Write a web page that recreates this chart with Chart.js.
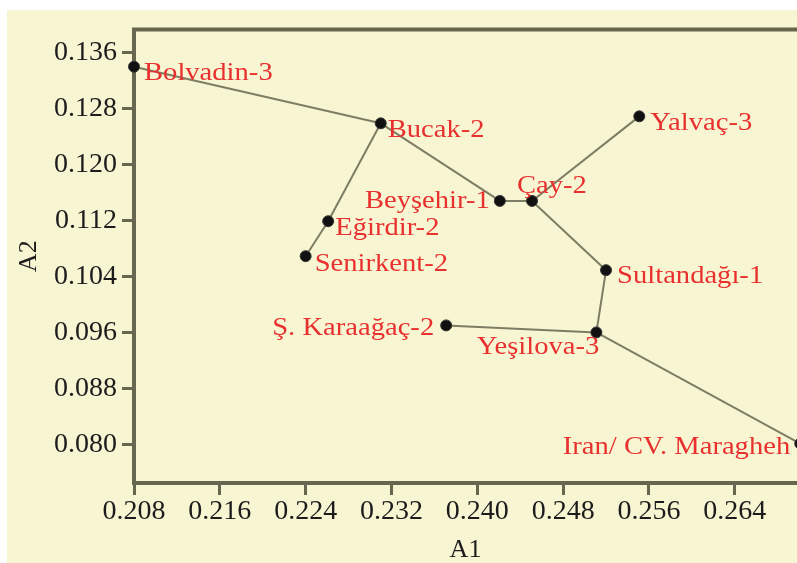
<!DOCTYPE html>
<html>
<head>
<meta charset="utf-8">
<script src="https://cdn.jsdelivr.net/npm/chart.js@4.4.1/dist/chart.umd.min.js"></script>
<style>
  html, body { margin: 0; padding: 0; background: #fff; overflow: hidden; }
  #wrap { position: absolute; left: 7px; top: 10px; width: 790px; height: 553px; background: #f8f5d3; }
</style>
</head>
<body>
<div id="wrap"><canvas id="chart"></canvas></div>
<script>
// accessions and their coordinates on A1 / A2
const sites = ['Bolvadin-3', 'Bucak-2', 'Eğirdir-2', 'Senirkent-2', 'Beyşehir-1', 'Çay-2',
  'Yalvaç-3', 'Sultandağı-1', 'Yeşilova-3', 'Ş. Karaağaç-2', 'Iran/ CV. Maragheh'];
const a1 = [0.2080, 0.2310, 0.2261, 0.2240, 0.2421, 0.2451, 0.2551, 0.2520, 0.2511, 0.2371, 0.2701];
const a2 = [0.1340, 0.1259, 0.1119, 0.1069, 0.1148, 0.1148, 0.1269, 0.1049, 0.0960, 0.0970, 0.0801];
// tree links, by index into sites
const links = [[0, 1], [1, 2], [2, 3], [1, 4], [4, 5], [5, 6], [5, 7], [7, 8], [8, 9], [8, 10]];

const xTicks = [0.208, 0.216, 0.224, 0.232, 0.240, 0.248, 0.256, 0.264];
const yTicks = [0.080, 0.088, 0.096, 0.104, 0.112, 0.120, 0.128, 0.136];

// where each label sits relative to its point: [dx, dy(baseline), align]
const labelPlacement = [
  [10, 13, 'left'], [7, 14, 'left'], [7, 14, 'left'], [9, 15, 'left'],
  [-10, 7, 'right'], [-15, -8, 'left'], [11, 14, 'left'], [11, 13, 'left'],
  [3, 22, 'right'], [-12, 10, 'right'], [-10, 10, 'right']
];

const axisColor = '#67674f';
const lineColor = '#7d7d63';
const labelColor = '#e8302e';
const serif = '"Liberation Serif", "Times New Roman", serif';

const siteLabels = {
  id: 'siteLabels',
  afterDatasetsDraw(chart) {
    const { ctx, scales: { x, y } } = chart;
    ctx.save();
    ctx.font = '26px ' + serif;
    ctx.fillStyle = labelColor;
    ctx.textBaseline = 'alphabetic';
    sites.forEach((name, i) => {
      const [dx, dy, align] = labelPlacement[i];
      ctx.save();
      ctx.translate(x.getPixelForValue(a1[i]) + dx, y.getPixelForValue(a2[i]) + dy);
      ctx.scale(1.1, 1);
      ctx.textAlign = align;
      ctx.fillText(name, 0, 0);
      ctx.restore();
    });
    ctx.restore();
  }
};

const topBorder = {
  id: 'topBorder',
  beforeDatasetsDraw(chart) {
    const { ctx, chartArea } = chart;
    ctx.save();
    ctx.strokeStyle = axisColor;
    ctx.lineWidth = 4;
    ctx.beginPath();
    ctx.moveTo(chartArea.left - 2, chartArea.top);
    ctx.lineTo(chart.width, chartArea.top);
    ctx.stroke();
    ctx.restore();
  }
};

const datasets = [{
  data: sites.map((s, i) => ({ x: a1[i], y: a2[i] })),
  pointRadius: 5.5,
  pointBackgroundColor: '#111',
  pointBorderColor: '#333',
  pointBorderWidth: 1,
  showLine: false,
  clip: false,
  order: 0
}];
links.forEach(([p, q]) => {
  datasets.push({
    data: [{ x: a1[p], y: a2[p] }, { x: a1[q], y: a2[q] }],
    showLine: true,
    borderColor: lineColor,
    borderWidth: 2,
    pointRadius: 0,
    clip: false,
    order: 1
  });
});

const tickFont = { family: serif, size: 28 };

new Chart(document.getElementById('chart'), {
  type: 'scatter',
  data: { datasets },
  options: {
    animation: false,
    responsive: true,
    maintainAspectRatio: false,
    layout: { autoPadding: false, padding: { top: 19.5, right: 0, bottom: 0, left: 0 } },
    plugins: { legend: { display: false }, tooltip: { enabled: false } },
    scales: {
      x: {
        type: 'linear',
        min: 0.208,
        max: 0.2698,
        afterBuildTicks: s => { s.ticks = xTicks.map(v => ({ value: v })); },
        afterFit: s => { s.height = 80; s.paddingLeft = 0; s.paddingRight = 0; },
        grid: { drawOnChartArea: false, drawTicks: true, tickLength: 12, tickWidth: 3, tickColor: axisColor },
        border: { color: axisColor, width: 4 },
        ticks: { font: tickFont, color: '#1c1c1c', padding: 0, maxRotation: 0, autoSkip: false,
          callback: v => v.toFixed(3) },
        title: { display: true, text: 'A1', color: '#1c1c1c',
          font: { family: serif, size: 26, lineHeight: 1 }, padding: { top: 0, bottom: 0 } }
      },
      y: {
        type: 'linear',
        min: 0.07446,
        max: 0.13932,
        afterBuildTicks: s => { s.ticks = yTicks.map(v => ({ value: v })); },
        afterFit: s => { s.width = 127; s.paddingTop = 0; s.paddingBottom = 0; },
        grid: { drawOnChartArea: false, drawTicks: true, tickLength: 12, tickWidth: 3, tickColor: axisColor },
        border: { color: axisColor, width: 4 },
        ticks: { font: tickFont, color: '#1c1c1c', padding: 5, autoSkip: false,
          callback: v => v.toFixed(3) },
        title: { display: true, text: 'A2', color: '#1c1c1c',
          font: { family: serif, size: 26, lineHeight: 1 }, padding: { top: 9, bottom: 0 } }
      }
    }
  },
  plugins: [topBorder, siteLabels]
});
</script>
</body>
</html>
